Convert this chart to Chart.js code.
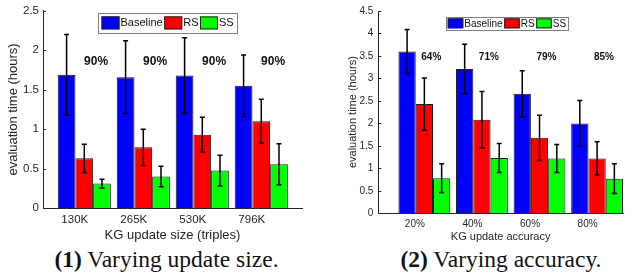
<!DOCTYPE html>
<html>
<head>
<meta charset="utf-8">
<script src="https://cdn.jsdelivr.net/npm/chart.js@4.4.0/dist/chart.umd.min.js"></script>
<style>
  html, body { margin: 0; padding: 0; background: #fff; width: 631px; height: 277px; overflow: hidden; }
  .wrap { position: absolute; top: 0; }
  .cap { position: absolute; font-family: "Liberation Serif", "Times New Roman", serif; font-size: 23.5px; line-height: 24px; color: #111; white-space: nowrap; text-align: center; }
  .cap b { font-weight: bold; }
</style>
</head>
<body>
<div class="wrap" style="left:0px;"><canvas id="c1" width="315" height="245"></canvas></div>
<div class="wrap" style="left:320px;"><canvas id="c2" width="311" height="245"></canvas></div>
<div class="cap" style="left:0px; width:333px; top:247px;"><b>(1)</b> Varying update size.</div>
<div class="cap" style="left:320px; width:362px; top:247px;"><b>(2)</b> Varying accuracy.</div>
<script>
// ---------- Data: chart (1) Varying update size ----------
const sizeCategories = ['130K', '265K', '530K', '796K'];
const sizeBaseline = [1.69, 1.66, 1.68, 1.55];
const sizeBaselineErr = [0.51, 0.46, 0.48, 0.39];
const sizeRS = [0.63, 0.77, 0.93, 1.10];
const sizeRSErr = [0.18, 0.23, 0.22, 0.28];
const sizeSS = [0.31, 0.40, 0.475, 0.555];
const sizeSSErr = [0.055, 0.13, 0.195, 0.26];
const sizePct = ['90%', '90%', '90%', '90%'];
const sizePctLevel = 1.85;
const sizeYTicks = [0, 0.5, 1, 1.5, 2, 2.5];

// ---------- Data: chart (2) Varying accuracy ----------
const accCategories = ['20%', '40%', '60%', '80%'];
const accBaseline = [3.60, 3.21, 2.66, 2.00];
const accBaselineErr = [0.49, 0.55, 0.51, 0.51];
const accRS = [2.43, 2.08, 1.68, 1.22];
const accRSErr = [0.58, 0.63, 0.50, 0.37];
const accSS = [0.78, 1.23, 1.22, 0.77];
const accSSErr = [0.32, 0.32, 0.31, 0.33];
const accPct = ['64%', '71%', '79%', '85%'];
const accPctLevel = 3.48;
const accYTicks = [0, 0.5, 1, 1.5, 2, 2.5, 3, 3.5, 4, 4.5];

const seriesNames = ['Baseline', 'RS', 'SS'];
const seriesColors = ['#0000ff', '#ff0000', '#00ff00'];
const AXIS = '#262626';
const FONT = '"Liberation Sans", Arial, Helvetica, sans-serif';

const extras = {
  id: 'extras',
  afterDatasetsDraw(chart, args, o) {
    const ctx = chart.ctx, xs = chart.scales.x, ys = chart.scales.y, ca = chart.chartArea;
    ctx.save();
    // error bars
    chart.data.datasets.forEach((ds, di) => {
      const meta = chart.getDatasetMeta(di);
      meta.data.forEach((bar, i) => {
        const v = ds.data[i].y, e = o.errors[di][i];
        const px = bar.x;
        const t = ys.getPixelForValue(v + e), b = ys.getPixelForValue(v - e);
        ctx.strokeStyle = '#000';
        ctx.lineWidth = 1.5;
        ctx.beginPath();
        ctx.moveTo(px, t); ctx.lineTo(px, b);
        ctx.moveTo(px - 2.5, t); ctx.lineTo(px + 2.5, t);
        ctx.moveTo(px - 2.5, b); ctx.lineTo(px + 2.5, b);
        ctx.stroke();
      });
    });
    // inward y ticks
    ctx.strokeStyle = AXIS;
    ctx.lineWidth = 1;
    ys.ticks.forEach(tk => {
      const py = Math.round(ys.getPixelForValue(tk.value)) + 0.5;
      ctx.beginPath(); ctx.moveTo(ca.left, py); ctx.lineTo(ca.left + 3, py); ctx.stroke();
    });
    // percentage labels
    ctx.fillStyle = '#111';
    ctx.font = 'bold ' + o.pctFont + 'px ' + FONT;
    ctx.textAlign = 'center';
    ctx.textBaseline = 'middle';
    o.pct.forEach((s, i) => {
      ctx.fillText(s, xs.getPixelForValue(i + 1 + o.pctDx), ys.getPixelForValue(o.pctLevel));
    });
    // legend
    const L = o.legend;
    ctx.font = L.font + 'px ' + FONT;
    ctx.textAlign = 'left';
    let x = ca.left + L.dx + L.pad;
    const y0 = ca.top + L.dy;
    const items = [];
    chart.data.datasets.forEach(ds => {
      items.push({ x: x, label: ds.label, color: ds.backgroundColor });
      x += L.sw + 1;
      const tw = ctx.measureText(ds.label).width;
      items[items.length - 1].tx = x;
      x += tw + 1.5;
    });
    const boxW = x + L.pad - 1.5 - (ca.left + L.dx);
    ctx.fillStyle = '#fff';
    ctx.fillRect(ca.left + L.dx, y0, boxW, L.h);
    ctx.strokeStyle = '#7f7f7f';
    ctx.lineWidth = 1;
    ctx.strokeRect(Math.round(ca.left + L.dx) + 0.5, Math.round(y0) + 0.5, Math.round(boxW), Math.round(L.h));
    items.forEach(it => {
      const sy = y0 + (L.h - L.sh) / 2;
      ctx.fillStyle = it.color;
      ctx.fillRect(it.x, sy, L.sw, L.sh);
      ctx.strokeStyle = '#222';
      ctx.strokeRect(it.x + 0.5, sy + 0.5, L.sw - 1, L.sh - 1);
      ctx.fillStyle = '#111';
      ctx.textBaseline = 'middle';
      ctx.fillText(it.label, it.tx, y0 + L.h / 2 + 0.5);
    });
    ctx.restore();
  }
};

function makeChart(id, cfg) {
  const datasets = cfg.values.map((vals, di) => ({
    label: seriesNames[di],
    data: vals.map((v, i) => ({ x: i + 1, y: v })),
    backgroundColor: seriesColors[di],
    borderColor: '#1a1a1a',
    borderWidth: 1,
    borderSkipped: 'bottom',
    categoryPercentage: 0.9,
    barPercentage: 1.0
  }));
  return new Chart(document.getElementById(id), {
    type: 'bar',
    data: { datasets },
    plugins: [extras],
    options: {
      responsive: false,
      animation: false,
      devicePixelRatio: 1,
      layout: { padding: cfg.padding },
      plugins: {
        legend: { display: false },
        tooltip: { enabled: false },
        extras: {
          errors: cfg.errors,
          pct: cfg.pct, pctLevel: cfg.pctLevel, pctDx: cfg.pctDx, pctFont: cfg.pctFont,
          legend: cfg.legend
        }
      },
      scales: {
        x: {
          type: 'linear',
          offset: false,
          min: cfg.xMin, max: cfg.xMax,
          grid: { display: false, drawTicks: false, offset: false },
          border: { display: true, color: AXIS, width: 1 },
          afterBuildTicks: s => { s.ticks = cfg.cats.map((c, i) => ({ value: i + 1 })); },
          afterFit: s => { s.height = cfg.xHeight; },
          ticks: {
            callback: v => cfg.cats[v - 1],
            color: AXIS, font: { family: FONT, size: cfg.tickFont },
            padding: cfg.xTickPad, labelOffset: -9.5, maxRotation: 0, autoSkip: false
          },
          title: {
            display: true, text: cfg.xTitle, color: AXIS,
            font: { family: FONT, size: cfg.titleFont },
            padding: { top: 0, bottom: cfg.xTitlePad }
          }
        },
        y: {
          min: 0, max: cfg.yTicks[cfg.yTicks.length - 1],
          grid: { display: false, drawTicks: false },
          border: { display: true, color: AXIS, width: 1 },
          afterBuildTicks: s => { s.ticks = cfg.yTicks.map(v => ({ value: v })); },
          afterFit: s => { s.width = cfg.yWidth; },
          ticks: {
            callback: v => String(v),
            color: AXIS, font: { family: FONT, size: cfg.tickFont },
            padding: cfg.yTickPad
          },
          title: {
            display: true, text: 'evaluation time (hours)', color: AXIS,
            font: { family: FONT, size: cfg.titleFont },
            padding: { top: cfg.yTitlePad, bottom: 0 }
          }
        }
      }
    }
  });
}

makeChart('c1', {
  cats: sizeCategories,
  values: [sizeBaseline, sizeRS, sizeSS],
  errors: [sizeBaselineErr, sizeRSErr, sizeSSErr],
  pct: sizePct, pctLevel: sizePctLevel, pctDx: 0.2, pctFont: 12,
  yTicks: sizeYTicks,
  xTitle: 'KG update size (triples)',
  xMin: 0.3, xMax: 4.69,
  padding: { top: 10, right: 13, left: 0, bottom: 0 },
  yWidth: 43, xHeight: 37,
  tickFont: 11.5, titleFont: 13,
  xTickPad: 5, yTickPad: 4, xTitlePad: 2, yTitlePad: 6,
  legend: { dx: 55, dy: 2, h: 20, sw: 18, sh: 13, pad: 3.5, font: 11 }
});

makeChart('c2', {
  cats: accCategories,
  values: [accBaseline, accRS, accSS],
  errors: [accBaselineErr, accRSErr, accSSErr],
  pct: accPct, pctLevel: accPctLevel, pctDx: 0.12, pctFont: 10,
  yTicks: accYTicks,
  xTitle: 'KG update accuracy',
  xMin: 0.2, xMax: 4.45,
  padding: { top: 11, right: 8, left: 0, bottom: 0 },
  yWidth: 58.3, xHeight: 31.7,
  tickFont: 10, titleFont: 11,
  xTickPad: 5, yTickPad: 5, xTitlePad: 1.7, yTitlePad: 26.4,
  legend: { dx: 67.4, dy: 5.7, h: 13.3, sw: 15.6, sh: 10, pad: 2, font: 10 }
});
</script>
</body>
</html>
